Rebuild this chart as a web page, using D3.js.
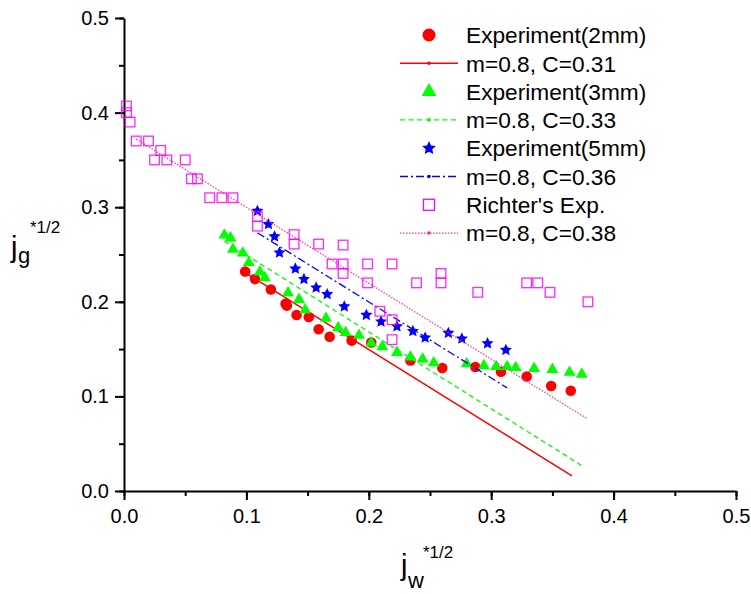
<!DOCTYPE html>
<html><head><meta charset="utf-8">
<script src="https://cdn.jsdelivr.net/npm/d3@7/dist/d3.min.js"></script>
<style>body{margin:0;background:#fff}svg{display:block;font-family:"Liberation Sans",Arial,sans-serif}</style>
</head><body>
<svg id="c" width="751" height="594"></svg>
<script>
// ---- data ----
const exp2mm = [[0.099,0.232],[0.107,0.224],[0.120,0.213],[0.132,0.198],[0.133,0.196],[0.141,0.186],[0.151,0.184],[0.159,0.171],[0.168,0.163],[0.186,0.159],[0.202,0.157],[0.234,0.138],[0.260,0.130],[0.287,0.131],[0.308,0.126],[0.329,0.121],[0.349,0.111],[0.365,0.106]];
const exp3mm = [[0.082,0.271],[0.087,0.268],[0.089,0.256],[0.097,0.252],[0.102,0.242],[0.111,0.232],[0.115,0.226],[0.134,0.210],[0.143,0.203],[0.148,0.192],[0.165,0.183],[0.175,0.173],[0.181,0.168],[0.192,0.165],[0.202,0.157],[0.211,0.153],[0.223,0.147],[0.234,0.142],[0.244,0.140],[0.253,0.136],[0.280,0.135],[0.294,0.133],[0.304,0.132],[0.313,0.132],[0.320,0.131],[0.335,0.130],[0.350,0.129],[0.364,0.126],[0.374,0.124]];
const exp5mm = [[0.109,0.296],[0.118,0.282],[0.123,0.269],[0.127,0.252],[0.140,0.235],[0.147,0.224],[0.157,0.215],[0.166,0.208],[0.180,0.195],[0.198,0.186],[0.210,0.179],[0.223,0.174],[0.236,0.169],[0.246,0.162],[0.265,0.167],[0.276,0.161],[0.297,0.156],[0.312,0.149]];
const richter = [[0.002,0.407],[0.002,0.400],[0.005,0.390],[0.010,0.370],[0.020,0.370],[0.030,0.360],[0.025,0.350],[0.035,0.350],[0.050,0.350],[0.055,0.330],[0.060,0.330],[0.070,0.310],[0.080,0.310],[0.089,0.310],[0.109,0.290],[0.109,0.280],[0.139,0.271],[0.139,0.261],[0.159,0.261],[0.179,0.260],[0.170,0.240],[0.179,0.240],[0.179,0.230],[0.199,0.240],[0.219,0.240],[0.199,0.220],[0.209,0.190],[0.219,0.181],[0.219,0.160],[0.239,0.220],[0.259,0.230],[0.259,0.220],[0.289,0.210],[0.329,0.220],[0.338,0.220],[0.348,0.210],[0.379,0.200]];
const fit2mm = [[0.100,0.230],[0.366,0.016]];
const fit3mm = [[0.082,0.264],[0.375,0.026]];
const fit5mm = [[0.109,0.273],[0.313,0.109]];
const fitRichter = [[0.010,0.372],[0.379,0.076]];
const legendLabels = ["Experiment(2mm)","m=0.8, C=0.31","Experiment(3mm)","m=0.8, C=0.33","Experiment(5mm)","m=0.8, C=0.36","Richter's Exp.","m=0.8, C=0.38"];
const xTicks = [0,0.1,0.2,0.3,0.4,0.5];
const yTicks = [0,0.1,0.2,0.3,0.4,0.5];

// ---- drawing ----
const svg = d3.select("#c");
const x = d3.scaleLinear().domain([0,0.5]).range([124,736]);
const y = d3.scaleLinear().domain([0,0.5]).range([491,18]);

const C = {red:"#ff0000", green:"#00ff00", blue:"#0000ff", mag:"#ff00ff", pink:"#ff3399"};

// fat five-point star (Origin style)
const fatStar = {
  draw(ctx, size){
    const R = Math.sqrt(size)/2, r = R*0.48;
    for(let i=0;i<10;i++){
      const a = -Math.PI/2 + i*Math.PI/5, rr = i%2? r : R;
      const px = rr*Math.cos(a), py = rr*Math.sin(a);
      i? ctx.lineTo(px,py) : ctx.moveTo(px,py);
    }
    ctx.closePath();
  }
};

// axes
const xMinor = d3.range(0,0.5001,0.05);
const gx = svg.append("g").attr("transform","translate(0,491)");
gx.call(d3.axisBottom(x).tickValues(xMinor).tickSize(5).tickFormat(""));
gx.call(g=>g.select(".domain").remove());
const gx2 = svg.append("g").attr("transform","translate(0,491)")
  .call(d3.axisBottom(x).tickValues(xTicks).tickSize(9).tickSizeOuter(0).tickPadding(9).tickFormat(d3.format(".1f")));
gx2.selectAll("text").attr("font-size",20).attr("font-family","Liberation Sans, Arial, sans-serif").attr("fill","#000");
const gy = svg.append("g").attr("transform","translate(124,0)");
gy.call(d3.axisLeft(y).tickValues(xMinor).tickSize(5).tickFormat(""));
gy.call(g=>g.select(".domain").remove());
const gy2 = svg.append("g").attr("transform","translate(124,0)")
  .call(d3.axisLeft(y).tickValues(yTicks).tickSize(9).tickSizeOuter(0).tickPadding(6).tickFormat(d3.format(".1f")));
gy2.selectAll("text").attr("font-size",20).attr("font-family","Liberation Sans, Arial, sans-serif").attr("fill","#000");
svg.selectAll(".domain").attr("stroke","#000").attr("stroke-width",2);
svg.selectAll(".tick line").attr("stroke","#000").attr("stroke-width",2);

// axis titles
svg.append("text").attr("x",401).attr("y",575).attr("font-size",29).text("j");
svg.append("text").attr("x",408).attr("y",588).attr("font-size",22).text("w");
svg.append("text").attr("x",423).attr("y",558).attr("font-size",17).text("*1/2");
svg.append("text").attr("x",11).attr("y",257).attr("font-size",29).text("j");
svg.append("text").attr("x",18).attr("y",263).attr("font-size",22).text("g");
svg.append("text").attr("x",30).attr("y",233).attr("font-size",17).text("*1/2");

const line = d3.line().x(d=>x(d[0])).y(d=>y(d[1]));
const plot = svg.append("g");

function drawLine(data,color,dash,w){
  plot.append("path").datum(data).attr("d",line).attr("fill","none")
    .attr("stroke",color).attr("stroke-width",w).attr("stroke-dasharray",dash);
}
// red
plot.selectAll(".c2").data(exp2mm).join("circle").attr("cx",d=>x(d[0])).attr("cy",d=>y(d[1])).attr("r",5.3).attr("fill",C.red);
drawLine(fit2mm,C.red,null,1.5);
// green
const tri = d3.symbol().type(d3.symbolTriangle).size(62);
plot.selectAll(".t3").data(exp3mm).join("path").attr("d",tri).attr("transform",d=>`translate(${x(d[0])},${y(d[1])+0.5})`).attr("fill",C.green);
drawLine(fit3mm,C.green,"5,3.5",1.3);
// blue
const star = d3.symbol().type(fatStar).size(160);
plot.selectAll(".s5").data(exp5mm).join("path").attr("d",star).attr("transform",d=>`translate(${x(d[0])},${y(d[1])})`).attr("fill",C.blue);
drawLine(fit5mm,C.blue,"8,3,2,3",1.3);
// richter
plot.selectAll(".sq").data(richter).join("rect").attr("x",d=>x(d[0])-4.8).attr("y",d=>y(d[1])-4.8).attr("width",9.6).attr("height",9.6)
  .attr("fill","none").attr("stroke",C.mag).attr("stroke-width",1.3).attr("stroke-opacity",0.85);
drawLine(fitRichter,C.pink,"1.5,1.5",1.2);

// legend
const lg = svg.append("g");
const rowY = i => 35 + i*28.3;
const sx = 429;
lg.append("circle").attr("cx",sx).attr("cy",rowY(0)).attr("r",6.5).attr("fill",C.red);
lg.append("path").attr("d",d3.symbol().type(d3.symbolTriangle).size(95)()).attr("transform",`translate(${sx},${rowY(2)})`).attr("fill",C.green);
lg.append("path").attr("d",d3.symbol().type(fatStar).size(210)()).attr("transform",`translate(${sx},${rowY(4)})`).attr("fill",C.blue);
lg.append("rect").attr("x",sx-5.5).attr("y",rowY(6)-5.5).attr("width",11).attr("height",11).attr("fill","none").attr("stroke",C.mag).attr("stroke-width",1.3);
const lstyles = [[C.red,null,1.5],[C.green,"5,3.5",1.3],[C.blue,"8,3,2,3",1.3],[C.pink,"1.5,1.5",1.2]];
lstyles.forEach((s,k)=>{
  const yy = rowY(2*k+1);
  lg.append("line").attr("x1",400).attr("x2",458).attr("y1",yy).attr("y2",yy).attr("stroke",s[0]).attr("stroke-width",s[2]).attr("stroke-dasharray",s[1]);
  lg.append("circle").attr("cx",sx).attr("cy",yy).attr("r",1.8).attr("fill",s[0]);
});
lg.selectAll(".lt").data(legendLabels).join("text").attr("x",466).attr("y",(d,i)=>rowY(i)+8.2)
  .attr("font-size",22.7).attr("fill","#000").text(d=>d);
</script>
</body></html>
